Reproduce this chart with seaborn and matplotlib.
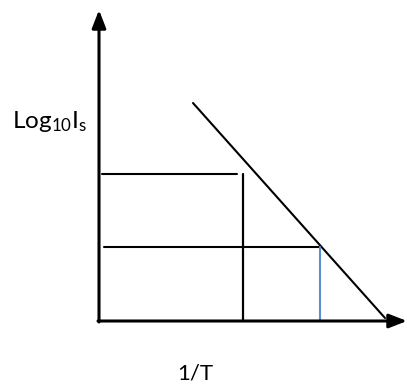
import matplotlib
matplotlib.use("Agg")
import matplotlib.pyplot as plt
import seaborn as sns
import pandas as pd

sns.set_theme(style="white")
plt.rcParams["font.family"] = ["Lato", "DejaVu Sans"]
plt.rcParams["mathtext.default"] = "regular"

# Schematic segments (x = 1/T, y = log10 Is), arbitrary units
line_x = [94, 286]
line_y = [218, 3]
upper_h_x = [3, 138]
upper_h_y = [147, 147]
black_v_x = [144, 144]
black_v_y = [0, 147]
lower_h_x = [5, 221]
lower_h_y = [74, 74]
blue_v_x = [221, 221]
blue_v_y = [0, 74]
axis_x_end = 308
axis_y_end = 311

fig = plt.figure(figsize=(4.07, 3.90), dpi=100)
ax = fig.add_axes([0, 0, 1, 1])
ax.set_xlim(-99, 308)
ax.set_ylim(-69, 321)
ax.axis("off")

segments = [
    (line_x, line_y, "black", 1.5),
    (upper_h_x, upper_h_y, "black", 1.5),
    (black_v_x, black_v_y, "black", 1.6),
    (lower_h_x, lower_h_y, "black", 1.5),
    (blue_v_x, blue_v_y, "#5B8FD2", 1.5),
]
for xs, ys, color, lw in segments:
    df = pd.DataFrame({"x": xs, "y": ys})
    sns.lineplot(data=df, x="x", y="y", ax=ax, color=color, linewidth=lw,
                 sort=False, estimator=None)

# Axes with arrowheads
arrow = dict(arrowstyle="-|>,head_length=0.9,head_width=0.35",
             color="black", lw=2.2, shrinkA=0, shrinkB=0)
ax.annotate("", xy=(axis_x_end, 0), xytext=(-1, 0), arrowprops=arrow)
ax.annotate("", xy=(0, axis_y_end), xytext=(0, -1), arrowprops=arrow)

ax.text(-87, 193, r"Log$_{10}$I$_{s}$", fontsize=17.5, ha="left",
        va="baseline", color="black")
ax.text(96, -59, "1/T", fontsize=16, ha="center", va="baseline",
        color="black")

fig.savefig("out.png", dpi=100)
